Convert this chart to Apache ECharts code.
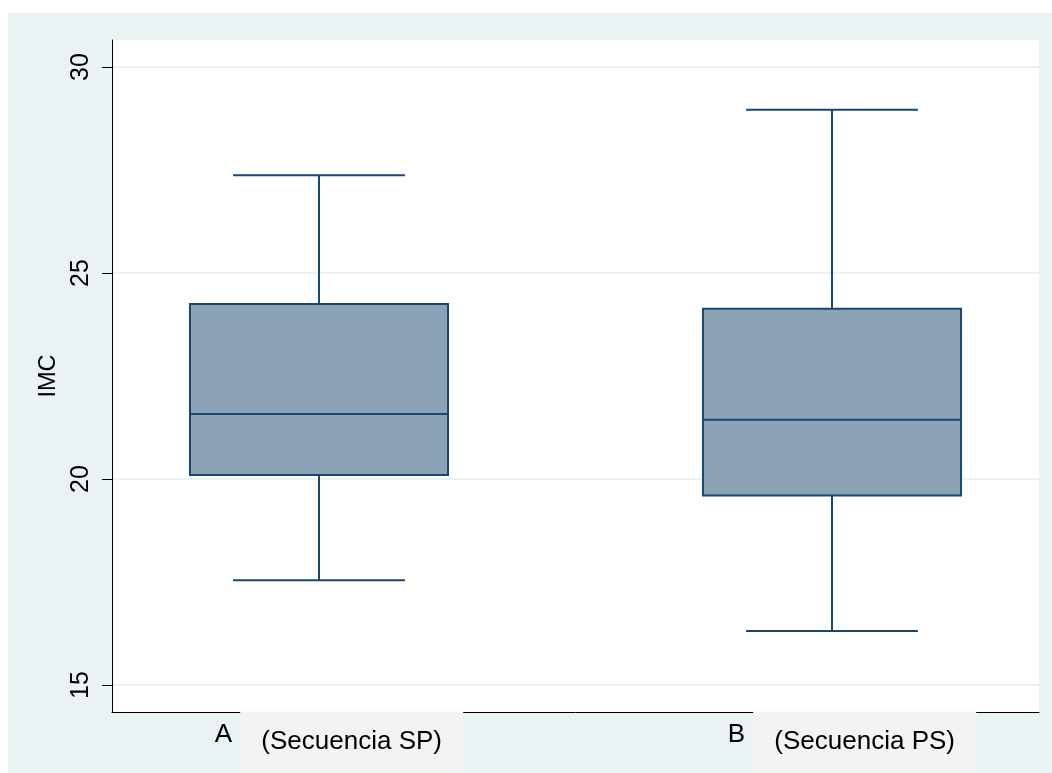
<!DOCTYPE html>
<html>
<head>
<meta charset="utf-8">
<title>IMC por secuencia</title>
<script src="https://cdn.jsdelivr.net/npm/echarts@6/dist/echarts.min.js"></script>
<style>
  html, body { margin: 0; padding: 0; background: #ffffff; overflow: hidden; }
  #chart { width: 1052px; height: 773px; }
</style>
</head>
<body>
<div id="chart"></div>
<script>
// Groups and their sequence captions
const groups = ['A', 'B'];
const sequenceNames = ['(Secuencia SP)', '(Secuencia PS)'];

// Five-number summaries of IMC per group
const lowerWhisker = [17.54, 16.31];
const quartile1 = [20.10, 19.60];
const median = [21.58, 21.44];
const quartile3 = [24.25, 24.13];
const upperWhisker = [27.37, 28.96];

// Y axis ticks and range
const yTicks = [15, 20, 25, 30];
const yMin = 14.345;
const yMax = 30.655;

const FONT = '"Liberation Sans", Arial, Helvetica, sans-serif';
const NAVY = '#1a476f';
const FILL = '#8ca3b7';
const BG = '#eaf2f3';

const boxData = groups.map((g, i) => [i, lowerWhisker[i], quartile1[i], median[i], quartile3[i], upperWhisker[i]]);

const chart = echarts.init(document.getElementById('chart'), null, { renderer: 'canvas' });

chart.setOption({
  backgroundColor: '#ffffff',
  animation: false,
  graphic: [{
    type: 'rect',
    z: -100,
    silent: true,
    shape: { x: 8, y: 13, width: 1044, height: 760 },
    style: { fill: BG }
  }],
  grid: [
    // plot region with the axes frame
    { left: 112, right: 13, top: 40, bottom: 61, show: true, backgroundColor: '#ffffff', borderWidth: 0,
      containLabel: false, outerBoundsMode: 'none' },
    // band layout for the two boxes
    { left: 62.5, right: -36.5, top: 40, bottom: 61, show: false,
      containLabel: false, outerBoundsMode: 'none' }
  ],
  xAxis: [
    {
      gridIndex: 0, type: 'value', min: 0, max: 1,
      axisLine: { show: true, lineStyle: { color: '#000', width: 1 } },
      axisTick: { show: false }, axisLabel: { show: false }, splitLine: { show: false }
    },
    {
      gridIndex: 1, type: 'category', data: groups,
      axisLine: { show: false }, axisTick: { show: false }, splitLine: { show: false },
      axisLabel: {
        margin: 16,
        padding: [0, 0, 0, 40],
        formatter: (v, i) => '{a|' + v + '}{b|' + sequenceNames[i] + '}',
        rich: {
          a: { fontFamily: FONT, fontSize: 26, color: '#000', lineHeight: 30, padding: [0, 8, 17, 0] },
          b: { fontFamily: FONT, fontSize: 26, color: '#000', lineHeight: 30, width: 223, align: 'center',
               backgroundColor: '#f3f3f3', padding: [17, 0, 20, 0] }
        }
      }
    }
  ],
  yAxis: [
    {
      gridIndex: 0, type: 'value', min: yMin, max: yMax,
      name: 'IMC', nameLocation: 'middle', nameGap: 51,
      nameTextStyle: { fontFamily: FONT, fontSize: 23.5, color: '#000' },
      axisLine: { show: true, lineStyle: { color: '#000', width: 1 } },
      axisTick: { show: true, customValues: yTicks, length: 10, lineStyle: { color: '#000', width: 1 } },
      axisLabel: { customValues: yTicks, rotate: 90, margin: 18, fontFamily: FONT, fontSize: 25, color: '#000' },
      splitLine: { show: true, lineStyle: { color: '#e6eef0', width: 1.5 } }
    },
    {
      gridIndex: 1, type: 'value', min: yMin, max: yMax, show: false,
      splitLine: { show: false }
    }
  ],
  series: [{
    type: 'custom',
    xAxisIndex: 1,
    yAxisIndex: 1,
    data: boxData,
    encode: { x: 0, y: [1, 2, 3, 4, 5] },
    renderItem: function (params, api) {
      const cat = api.value(0);
      const band = api.size([1, 0])[0];
      const boxHalf = band * 0.2515;
      const capHalf = band * 0.1675;
      const pLo = api.coord([cat, api.value(1)]);
      const pQ1 = api.coord([cat, api.value(2)]);
      const pMed = api.coord([cat, api.value(3)]);
      const pQ3 = api.coord([cat, api.value(4)]);
      const pHi = api.coord([cat, api.value(5)]);
      const cx = pMed[0];
      const lineStyle = { stroke: NAVY, lineWidth: 2, fill: null };
      return {
        type: 'group',
        children: [
          { type: 'line', shape: { x1: cx, y1: pQ1[1], x2: cx, y2: pLo[1] }, style: lineStyle },
          { type: 'line', shape: { x1: cx, y1: pQ3[1], x2: cx, y2: pHi[1] }, style: lineStyle },
          { type: 'line', shape: { x1: cx - capHalf, y1: pLo[1], x2: cx + capHalf, y2: pLo[1] }, style: lineStyle },
          { type: 'line', shape: { x1: cx - capHalf, y1: pHi[1], x2: cx + capHalf, y2: pHi[1] }, style: lineStyle },
          { type: 'rect', shape: { x: cx - boxHalf, y: pQ3[1], width: boxHalf * 2, height: pQ1[1] - pQ3[1] },
            style: { fill: FILL, stroke: NAVY, lineWidth: 2 } },
          { type: 'line', shape: { x1: cx - boxHalf, y1: pMed[1], x2: cx + boxHalf, y2: pMed[1] }, style: lineStyle }
        ]
      };
    }
  }]
});
</script>
</body>
</html>
